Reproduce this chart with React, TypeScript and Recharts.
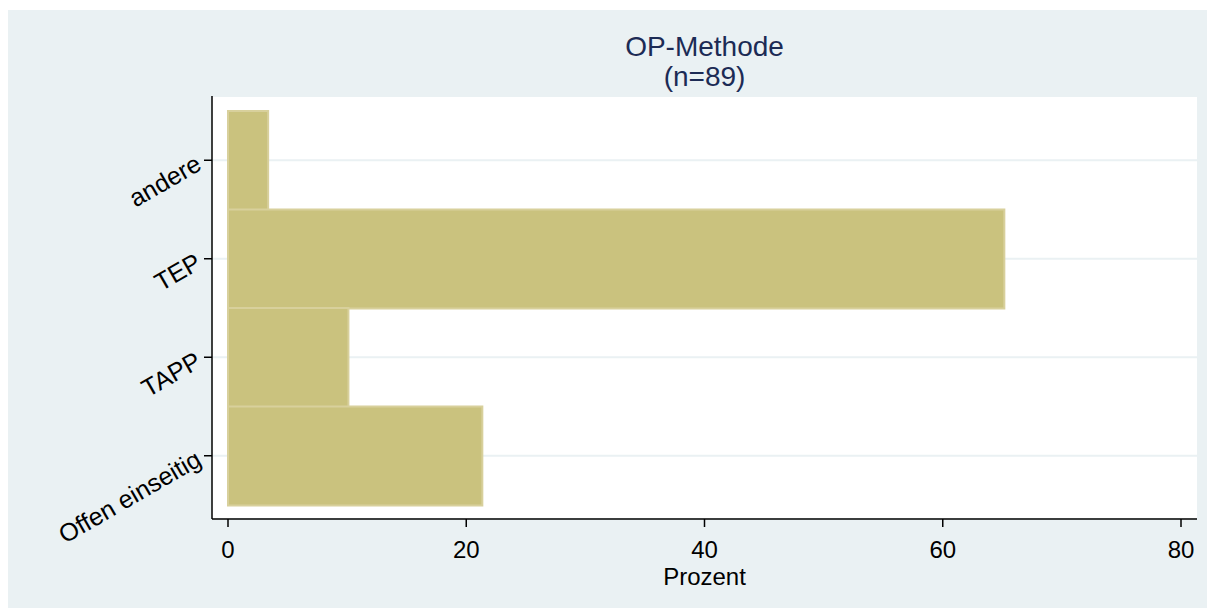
import React from "react";
import { Bar, BarChart, CartesianGrid, XAxis, YAxis } from "recharts";

const categories = ["andere", "TEP", "TAPP", "Offen einseitig"];
const percents = [3.37, 65.17, 10.11, 21.35];
const xTicks = [0, 20, 40, 60, 80];

const data = categories.map((name, i) => ({ name, pct: percents[i] }));

const FONT = '"Liberation Sans", Arial, Helvetica, sans-serif';

function RotatedTick(props: any) {
  const { x, y, payload } = props;
  return (
    <text
      x={x}
      y={y}
      dy="0.4em"
      textAnchor="end"
      fontSize={25}
      fontFamily={FONT}
      fill="#000"
      transform={`rotate(-30, ${x}, ${y})`}
    >
      {payload.value}
    </text>
  );
}

export default function App() {
  return (
    <div style={{ paddingTop: 2 }}>
      <div
        style={{
          position: "relative",
          width: 1207,
          height: 598,
          background: "#EAF1F3",
          fontFamily: FONT,
        }}
      >
        <div
          style={{
            position: "absolute",
            left: 204,
            width: 985,
            top: 22,
            textAlign: "center",
            color: "#1C2B55",
            fontSize: 28,
            lineHeight: "30px",
          }}
        >
          OP-Methode
          <br />
          (n=89)
        </div>
        <BarChart
          width={1207}
          height={598}
          data={data}
          layout="vertical"
          barCategoryGap={0}
          barGap={0}
          margin={{ top: 86, right: 18, left: 0, bottom: 23 }}
          style={{ position: "absolute", left: 0, top: 0 }}
        >
          <CartesianGrid
            fill="#ffffff"
            vertical={false}
            stroke="#EAF1F3"
            strokeWidth={2}
          />
          <XAxis
            type="number"
            domain={[0, 80]}
            ticks={xTicks}
            padding={{ left: 16, right: 16 }}
            height={66}
            tickSize={8}
            tickMargin={14}
            tick={{ fontSize: 24, fill: "#000", fontFamily: FONT }}
            axisLine={{ stroke: "#000", strokeWidth: 1.5 }}
            tickLine={{ stroke: "#000", strokeWidth: 1.5 }}
            label={{
              value: "Prozent",
              position: "insideBottom",
              offset: 0,
              fontSize: 24,
              fill: "#000",
              fontFamily: FONT,
            }}
          />
          <YAxis
            type="category"
            dataKey="name"
            width={204}
            padding={{ top: 15, bottom: 14 }}
            tickSize={8}
            tickMargin={6}
            tick={<RotatedTick />}
            axisLine={{ stroke: "#000", strokeWidth: 1.5 }}
            tickLine={{ stroke: "#000", strokeWidth: 1.5 }}
            interval={0}
          />
          <Bar
            dataKey="pct"
            fill="#CAC27E"
            stroke="#D8D09C"
            strokeWidth={2}
            isAnimationActive={false}
          />
        </BarChart>
      </div>
    </div>
  );
}
